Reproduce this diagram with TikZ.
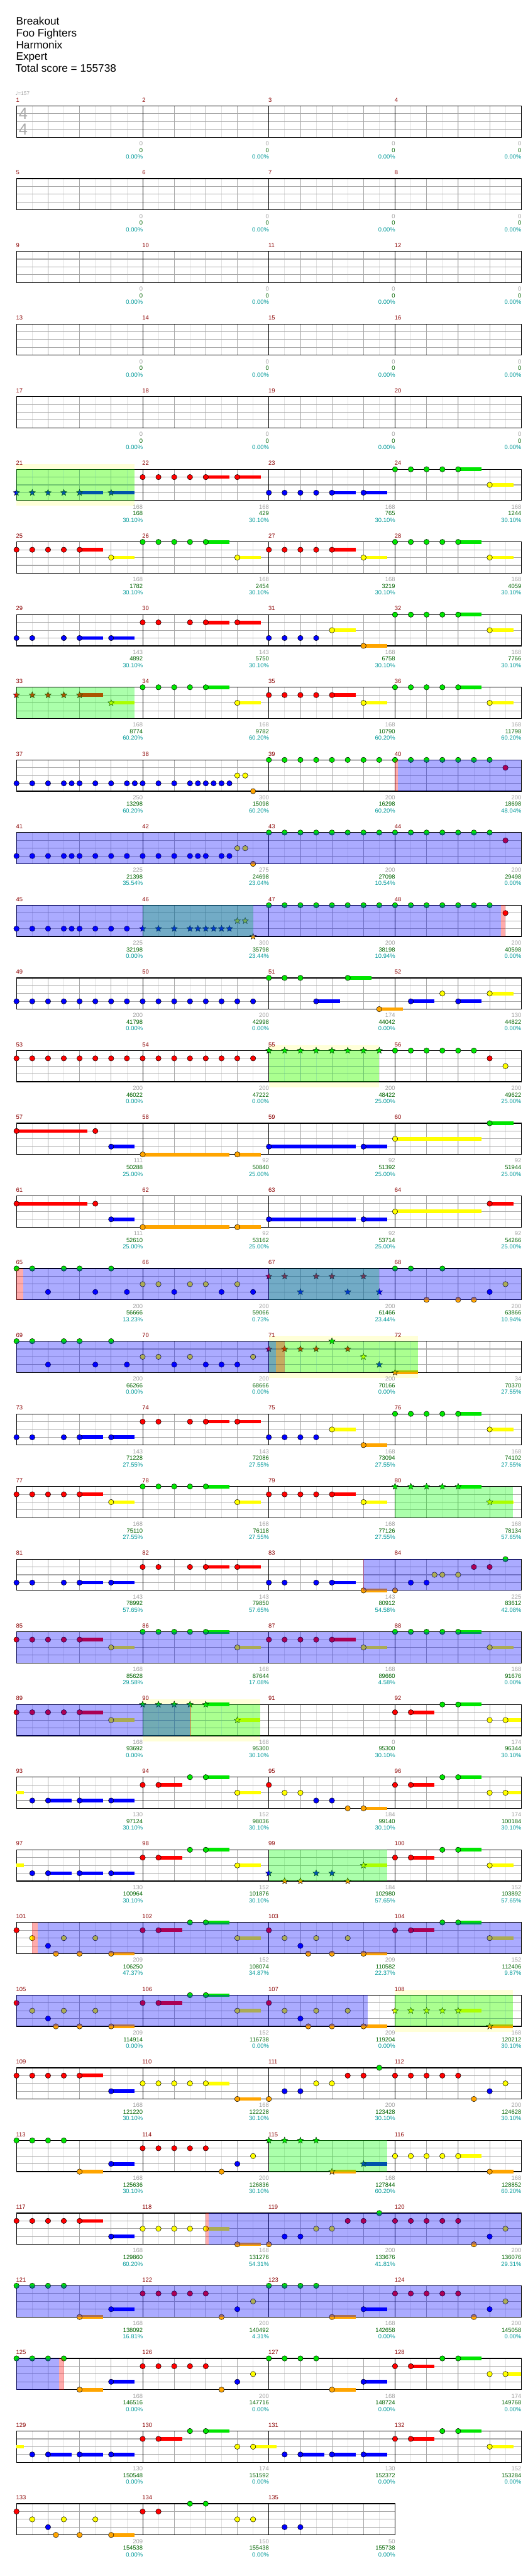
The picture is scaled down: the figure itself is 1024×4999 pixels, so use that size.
\documentclass[tikz,border=0pt]{standalone}
\usepackage{fontspec}
\setmainfont{Liberation Sans}
\newfontfamily\symf{DejaVu Sans}
\usetikzlibrary{shapes.geometric}
\definecolor{ng}{HTML}{00E600}
\definecolor{nr}{HTML}{FF0000}
\definecolor{ny}{HTML}{FFFF00}
\definecolor{nb}{HTML}{0000FF}
\definecolor{no}{HTML}{FFA500}
\definecolor{mnumc}{HTML}{8B0000}
\definecolor{grayn}{HTML}{A0A0A0}
\definecolor{greenn}{HTML}{006400}
\definecolor{cyann}{HTML}{009999}
\definecolor{bandc}{HTML}{FFFFD8}
\definecolor{lg8}{HTML}{E2E2E2}
\definecolor{lg4}{HTML}{A8A8A8}
\definecolor{tsig}{HTML}{AAAAAA}
\tikzset{
 ln8/.style={draw=lg8, line width=0.8pt},
 ln4/.style={draw=lg4, line width=1pt},
 lnh/.style={draw=lg4, line width=1.3pt},
 lnm/.style={draw=black, line width=1pt},
 chframe/.style={draw=black, line width=1.5pt},
 notest/.style={draw=black, line width=0.6pt},
 starnote/.style={star, star points=5, star point ratio=2.3, minimum size=13pt, inner sep=0pt, draw=black, line width=0.5pt},
 mnum/.style={anchor=base west, inner sep=0pt, font=\fontsize{11.5}{11.5}\selectfont, text=mnumc},
 stt/.style={anchor=base east, inner sep=0pt, font=\fontsize{11.5}{11.5}\selectfont},
 hdr/.style={anchor=base west, inner sep=0pt, font=\fontsize{21}{21}\selectfont}
}
\newcommand\chRow[1]{\pgfmathsetmacro\rowtop{205.7+141*#1}}
\newcommand\chStaff[1]{%
 \pgfmathsetmacro\chrw{245*#1}%
 \pgfmathtruncatemacro\chne{8*#1-1}%
 \foreach \i in {1,...,\chne}{\draw[ln8] ({32+30.625*\i},\rowtop) -- ++(0,60.6);}%
 \pgfmathtruncatemacro\chnq{4*#1-1}%
 \foreach \i in {1,...,\chnq}{\draw[ln4] ({32+61.25*\i},\rowtop) -- ++(0,60.6);}%
 \foreach \i in {1,2,3}{\draw[lnh] (32,{\rowtop+15.15*\i}) -- ++(\chrw,0);}%
 \pgfmathtruncatemacro\chnm{#1-1}%
 \foreach \i in {1,...,\chnm}{\draw[lnm] ({32+245*\i},\rowtop) -- ++(0,60.6);}%
 \draw[chframe] (32,\rowtop) rectangle ++(\chrw,60.6);}
\newcommand\chN[3]{\foreach \pp in {#3}{\path[notest,fill=#2] ({32+30.625*\pp},{\rowtop+15.15*#1}) circle[radius=5.2pt];}}
\newcommand\chS[3]{\foreach \pp in {#3}{\node[starnote,fill=#2] at ({32+30.625*\pp},{\rowtop+15.15*#1}) {};}}
\newcommand\chU[4]{\fill[#2] ({32+30.625*(#3)},{\rowtop+15.15*#1-3.5}) rectangle ({32+30.625*(#4)},{\rowtop+15.15*#1+3.5});}
\newcommand\chNU[4]{\chU{#1}{#2}{#3}{#4}\chN{#1}{#2}{#3}}
\newcommand\chSU[4]{\chU{#1}{#2}{#3}{#4}\chS{#1}{#2}{#3}}
\newcommand\chG[2]{\fill[green,fill opacity=0.33] ({32+30.625*(#1)},\rowtop) rectangle ({32+30.625*(#2)},{\rowtop+60.6});}
\newcommand\chB[2]{\fill[blue,fill opacity=0.33] ({32+30.625*(#1)},\rowtop) rectangle ({32+30.625*(#2)},{\rowtop+60.6});}
\newcommand\chP[2]{\fill[red,fill opacity=0.33] ({32+30.625*(#1)},\rowtop) rectangle ({32+30.625*(#2)},{\rowtop+60.6});}
\newcommand\chY[2]{\fill[bandc] ({32+30.625*(#1)},{\rowtop-10.5}) rectangle ({32+30.625*(#2)},{\rowtop+71.1});}
\newcommand\chL[5]{%
 \node[mnum] at ({31+245*#1},{\rowtop-7.7}) {#2};%
 \node[stt,text=grayn] at ({32.5+245*(#1+1)},{\rowtop+76.9}) {#3};%
 \node[stt,text=greenn] at ({32.5+245*(#1+1)},{\rowtop+89.9}) {#4};%
 \node[stt,text=cyann] at ({32.5+245*(#1+1)},{\rowtop+102.6}) {#5\%};}
\begin{document}
\begin{tikzpicture}[x=1pt,y=-1pt]
\fill[white] (0,0) rectangle (1024,4999);
\useasboundingbox (0,0) rectangle (1024,4999);
% header
\node[hdr] (t1) at (31,48) {Breakout};
\node[hdr] (t2) at (31,71) {Foo Fighters};
\node[hdr] (t3) at (31,94) {Harmonix};
\node[hdr] (t4) at (31,117) {Expert};
\node[hdr] (t5) at (30,140) {Total score = 155738};
\node[anchor=base west, inner sep=0pt, text=grayn, font=\fontsize{10}{10}\selectfont] (tempo) at (30,185) {{\symf ♩}=157};
% empty rows
\foreach \r in {0,...,4}{%
 \chRow{\r}\chStaff{4}%
 \foreach \k in {0,1,2,3}{\pgfmathtruncatemacro\mm{4*\r+\k+1}\chL{\k}{\mm}{0}{0}{0.00}}}
\chRow{0}
\node[text=tsig, inner sep=0pt, font=\fontsize{31}{31}\selectfont] (ts1) at (45,221) {4};
\node[text=tsig, inner sep=0pt, font=\fontsize{31}{31}\selectfont] (ts2) at (45,251) {4};
% row 5
\chRow{5}\chY{0}{7.47}\chStaff{4}
\chS{3}{nb}{0,1,2,3}\chSU{3}{nb}{4}{5.5}\chSU{3}{nb}{6}{7.47}
\chN{1}{nr}{8,9,10,11}\chNU{1}{nr}{12}{13.5}\chNU{1}{nr}{14}{15.5}
\chN{3}{nb}{16,17,18,19}\chNU{3}{nb}{20}{21.5}\chNU{3}{nb}{22}{23.5}
\chN{0}{ng}{24,25,26,27}\chNU{0}{ng}{28}{29.5}\chNU{2}{ny}{30}{31.5}
\chG{0}{7.47}
\chL{0}{21}{168}{168}{30.10}\chL{1}{22}{168}{429}{30.10}\chL{2}{23}{168}{765}{30.10}\chL{3}{24}{168}{1244}{30.10}
% row 6
\chRow{6}\chStaff{4}
\chN{1}{nr}{0,1,2,3}\chNU{1}{nr}{4}{5.5}\chNU{2}{ny}{6}{7.47}
\chN{0}{ng}{8,9,10,11}\chNU{0}{ng}{12}{13.5}\chNU{2}{ny}{14}{15.5}
\chN{1}{nr}{16,17,18,19}\chNU{1}{nr}{20}{21.5}\chNU{2}{ny}{22}{23.5}
\chN{0}{ng}{24,25,26,27}\chNU{0}{ng}{28}{29.5}\chNU{2}{ny}{30}{31.5}
\chL{0}{25}{168}{1782}{30.10}\chL{1}{26}{168}{2454}{30.10}\chL{2}{27}{168}{3219}{30.10}\chL{3}{28}{168}{4059}{30.10}
% row 7
\chRow{7}\chStaff{4}
\chN{3}{nb}{0,1,3}\chNU{3}{nb}{4}{5.5}\chNU{3}{nb}{6}{7.47}
\chN{1}{nr}{8,9,11}\chNU{1}{nr}{12}{13.5}\chNU{1}{nr}{14}{15.5}
\chN{3}{nb}{16,17,18,19}\chNU{2}{ny}{20}{21.5}\chNU{4}{no}{22}{23.5}
\chN{0}{ng}{24,25,26,27}\chNU{0}{ng}{28}{29.5}\chNU{2}{ny}{30}{31.5}
\chL{0}{29}{143}{4892}{30.10}\chL{1}{30}{143}{5750}{30.10}\chL{2}{31}{168}{6758}{30.10}\chL{3}{32}{168}{7766}{30.10}
% row 8
\chRow{8}\chStaff{4}
\chS{1}{nr}{0,1,2,3}\chSU{1}{nr}{4}{5.5}\chSU{2}{ny}{6}{7.47}
\chN{0}{ng}{8,9,10,11}\chNU{0}{ng}{12}{13.5}\chNU{2}{ny}{14}{15.5}
\chN{1}{nr}{16,17,18,19}\chNU{1}{nr}{20}{21.5}\chNU{2}{ny}{22}{23.5}
\chN{0}{ng}{24,25,26,27}\chNU{0}{ng}{28}{29.5}\chNU{2}{ny}{30}{31.5}
\chG{0}{7.47}
\chL{0}{33}{168}{8774}{60.20}\chL{1}{34}{168}{9782}{60.20}\chL{2}{35}{168}{10790}{60.20}\chL{3}{36}{168}{11798}{60.20}
% row 9
\chRow{9}\chStaff{4}
\chN{3}{nb}{0,1,2,3,3.5,4,5,6,7,7.5,8,9,10,11,11.5,12,12.5,13,13.5}
\chN{2}{ny}{14,14.5}\chN{4}{no}{15}
\chN{0}{ng}{16,...,30}\chN{1}{nr}{31}
\chP{24}{24.17}\chB{24.17}{32}
\chL{0}{37}{250}{13298}{60.20}\chL{1}{38}{300}{15098}{60.20}\chL{2}{39}{200}{16298}{60.20}\chL{3}{40}{200}{18698}{48.04}
% row 10
\chRow{10}\chStaff{4}
\chN{3}{nb}{0,1,2,3,3.5,4,5,6,7,8,9,10,11,11.5,12,13,13.5}
\chN{2}{ny}{14,14.5}\chN{4}{no}{15}
\chN{0}{ng}{16,...,30}\chN{1}{nr}{31}
\chB{0}{32}
\chL{0}{41}{225}{21398}{35.54}\chL{1}{42}{275}{24698}{23.04}\chL{2}{43}{200}{27098}{10.54}\chL{3}{44}{200}{29498}{0.00}
% row 11
\chRow{11}\chStaff{4}
\chN{3}{nb}{0,1,2,3,3.5,4,5,6,7}
\chS{3}{nb}{8,9,10,11,11.5,12,12.5,13,13.5}
\chS{2}{ny}{14,14.5}\chS{4}{no}{15}
\chN{0}{ng}{16,...,30}\chN{1}{nr}{31}
\chG{8}{15}\chB{0}{30.73}\chP{30.73}{31}
\chL{0}{45}{225}{32198}{0.00}\chL{1}{46}{300}{35798}{23.44}\chL{2}{47}{200}{38198}{10.94}\chL{3}{48}{200}{40598}{0.00}
% row 12
\chRow{12}\chStaff{4}
\chN{3}{nb}{0,...,15}
\chN{0}{ng}{16,17,18}\chNU{3}{nb}{19}{20.5}\chNU{0}{ng}{21}{22.5}\chNU{4}{no}{23}{24.5}
\chNU{3}{nb}{25}{26.5}\chN{2}{ny}{27}\chNU{3}{nb}{28}{29.5}\chNU{2}{ny}{30}{31.5}
\chL{0}{49}{200}{41798}{0.00}\chL{1}{50}{200}{42998}{0.00}\chL{2}{51}{174}{44042}{0.00}\chL{3}{52}{130}{44822}{0.00}
% row 13
\chRow{13}\chY{16}{23}\chStaff{4}
\chN{1}{nr}{0,...,15}
\chS{0}{ng}{16,...,23}
\chN{0}{ng}{24,...,29}\chN{1}{nr}{30}\chN{2}{ny}{31}
\chG{16}{23}
\chL{0}{53}{200}{46022}{0.00}\chL{1}{54}{200}{47222}{0.00}\chL{2}{55}{200}{48422}{25.00}\chL{3}{56}{200}{49622}{25.00}
% row 14
\chRow{14}\chStaff{4}
\chNU{1}{nr}{0}{4.5}\chN{1}{nr}{5}\chNU{3}{nb}{6}{7.47}
\chNU{4}{no}{8}{13.5}\chNU{4}{no}{14}{15.5}
\chNU{3}{nb}{16}{21.5}\chNU{3}{nb}{22}{23.5}
\chNU{2}{ny}{24}{29.5}\chNU{0}{ng}{30}{31.5}
\chL{0}{57}{111}{50288}{25.00}\chL{1}{58}{92}{50840}{25.00}\chL{2}{59}{92}{51392}{25.00}\chL{3}{60}{92}{51944}{25.00}
% row 15
\chRow{15}\chStaff{4}
\chNU{1}{nr}{0}{4.5}\chN{1}{nr}{5}\chNU{3}{nb}{6}{7.47}
\chNU{4}{no}{8}{13.5}\chNU{4}{no}{14}{15.5}
\chNU{3}{nb}{16}{21.5}\chNU{3}{nb}{22}{23.5}
\chNU{2}{ny}{24}{29.5}\chNU{1}{nr}{30}{31.5}
\chL{0}{61}{111}{52610}{25.00}\chL{1}{62}{92}{53162}{25.00}\chL{2}{63}{92}{53714}{25.00}\chL{3}{64}{92}{54266}{25.00}
% row 16
\chRow{16}\chStaff{4}
\chN{0}{ng}{0,1,3,4,6}\chN{3}{nb}{2,5,7}
\chN{2}{ny}{8,9,11,12,14}\chN{3}{nb}{10,13,15}
\chS{1}{nr}{16,17,19,20,22}\chS{3}{nb}{18,21,23}
\chN{0}{ng}{24,25,27}\chN{4}{no}{26,28,29}\chN{3}{nb}{30}\chN{2}{ny}{31}
\chG{16}{23}\chP{0}{0.44}\chB{0.44}{32}
\chL{0}{65}{200}{56666}{13.23}\chL{1}{66}{200}{59066}{0.73}\chL{2}{67}{200}{61466}{23.44}\chL{3}{68}{200}{63866}{10.94}
% row 17
\chRow{17}\chY{16}{25.47}\chStaff{4}
\chN{0}{ng}{0,1,3,4,6}\chN{3}{nb}{2,5,7}
\chN{2}{ny}{8,9,11,15}\chN{3}{nb}{10,12,13,14}
\chS{1}{nr}{16,17,18,19,21}\chS{0}{ng}{20}\chS{2}{ny}{22}\chS{3}{nb}{23}
\chSU{4}{no}{24}{25.47}
\chG{16}{25.47}\chB{0}{16.43}\chP{16.43}{17}
\chL{0}{69}{200}{66266}{0.00}\chL{1}{70}{200}{68666}{0.00}\chL{2}{71}{200}{70166}{0.00}\chL{3}{72}{34}{70370}{27.55}
% row 18
\chRow{18}\chStaff{4}
\chN{3}{nb}{0,1,3}\chNU{3}{nb}{4}{5.5}\chNU{3}{nb}{6}{7.47}
\chN{1}{nr}{8,9,11}\chNU{1}{nr}{12}{13.5}\chNU{1}{nr}{14}{15.5}
\chN{3}{nb}{16,17,18,19}\chNU{2}{ny}{20}{21.5}\chNU{4}{no}{22}{23.5}
\chN{0}{ng}{24,25,26,27}\chNU{0}{ng}{28}{29.5}\chNU{2}{ny}{30}{31.5}
\chL{0}{73}{143}{71228}{27.55}\chL{1}{74}{143}{72086}{27.55}\chL{2}{75}{168}{73094}{27.55}\chL{3}{76}{168}{74102}{27.55}
% row 19
\chRow{19}\chStaff{4}
\chN{1}{nr}{0,1,2,3}\chNU{1}{nr}{4}{5.5}\chNU{2}{ny}{6}{7.47}
\chN{0}{ng}{8,9,10,11}\chNU{0}{ng}{12}{13.5}\chNU{2}{ny}{14}{15.5}
\chN{1}{nr}{16,17,18,19}\chNU{1}{nr}{20}{21.5}\chNU{2}{ny}{22}{23.5}
\chS{0}{ng}{24,25,26,27}\chSU{0}{ng}{28}{29.5}\chSU{2}{ny}{30}{31.5}
\chG{24}{31.47}
\chL{0}{77}{168}{75110}{27.55}\chL{1}{78}{168}{76118}{27.55}\chL{2}{79}{168}{77126}{27.55}\chL{3}{80}{168}{78134}{57.65}
% row 20
\chRow{20}\chStaff{4}
\chN{3}{nb}{0,1,3}\chNU{3}{nb}{4}{5.5}\chNU{3}{nb}{6}{7.47}
\chN{1}{nr}{8,9,11}\chNU{1}{nr}{12}{13.5}\chNU{1}{nr}{14}{15.5}
\chN{3}{nb}{16,17,19}\chNU{3}{nb}{20}{21.5}\chNU{4}{no}{22}{23.5}\chN{4}{no}{24}
\chN{3}{nb}{25,26}\chN{2}{ny}{26.5,27,28}\chN{1}{nr}{29,30}\chN{0}{ng}{31}
\chB{22}{32}\chP{21.97}{22.03}
\chL{0}{81}{143}{78992}{57.65}\chL{1}{82}{143}{79850}{57.65}\chL{2}{83}{143}{80912}{54.58}\chL{3}{84}{225}{83612}{42.08}
% row 21
\chRow{21}\chStaff{4}
\chN{1}{nr}{0,1,2,3}\chNU{1}{nr}{4}{5.5}\chNU{2}{ny}{6}{7.47}
\chN{0}{ng}{8,9,10,11}\chNU{0}{ng}{12}{13.5}\chNU{2}{ny}{14}{15.5}
\chN{1}{nr}{16,17,18,19}\chNU{1}{nr}{20}{21.5}\chNU{2}{ny}{22}{23.5}
\chN{0}{ng}{24,25,26,27}\chNU{0}{ng}{28}{29.5}\chNU{2}{ny}{30}{31.5}
\chB{0}{32}
\chL{0}{85}{168}{85628}{29.58}\chL{1}{86}{168}{87644}{17.08}\chL{2}{87}{168}{89660}{4.58}\chL{3}{88}{168}{91676}{0.00}
% row 22
\chRow{22}\chY{8}{15.47}\chStaff{4}
\chN{1}{nr}{0,1,2,3}\chNU{1}{nr}{4}{5.5}\chNU{2}{ny}{6}{7.47}
\chS{0}{ng}{8,9,10,11}\chSU{0}{ng}{12}{13.5}\chSU{2}{ny}{14}{15.47}
\chN{1}{nr}{24}\chNU{1}{nr}{25}{26.5}\chN{0}{ng}{27}\chNU{0}{ng}{28}{29.5}\chN{2}{ny}{30}\chNU{2}{ny}{31}{32}
\chG{8}{15.47}\chB{0}{11}\chP{11}{11.05}
\chL{0}{89}{168}{93692}{0.00}\chL{1}{90}{168}{95300}{30.10}\chL{2}{91}{0}{95300}{30.10}\chL{3}{92}{174}{96344}{30.10}
% row 23
\chRow{23}\chStaff{4}
\chU{2}{ny}{0}{0.47}
\chN{3}{nb}{1}\chNU{3}{nb}{2}{3.5}\chNU{3}{nb}{4}{5.5}\chNU{3}{nb}{6}{7.47}
\chN{1}{nr}{8}\chNU{1}{nr}{9}{10.5}\chN{0}{ng}{11}\chNU{0}{ng}{12}{13.5}\chNU{2}{ny}{14}{15.5}
\chN{1}{nr}{16}\chN{2}{ny}{17,18}\chN{3}{nb}{19,20}\chN{4}{no}{21}\chNU{4}{no}{22}{23.5}
\chN{1}{nr}{24}\chNU{1}{nr}{25}{26.5}\chN{0}{ng}{27}\chNU{0}{ng}{28}{29.5}\chN{2}{ny}{30}\chNU{2}{ny}{31}{32}
\chL{0}{93}{130}{97124}{30.10}\chL{1}{94}{152}{98036}{30.10}\chL{2}{95}{184}{99140}{30.10}\chL{3}{96}{174}{100184}{30.10}
% row 24
\chRow{24}\chStaff{4}
\chU{2}{ny}{0}{0.47}
\chN{3}{nb}{1}\chNU{3}{nb}{2}{3.5}\chNU{3}{nb}{4}{5.5}\chNU{3}{nb}{6}{7.47}
\chN{1}{nr}{8}\chNU{1}{nr}{9}{10.5}\chN{0}{ng}{11}\chNU{0}{ng}{12}{13.5}\chNU{2}{ny}{14}{15.5}
\chS{3}{nb}{16,19,20}\chS{4}{no}{17,18,21}\chSU{2}{ny}{22}{23.5}
\chN{1}{nr}{24}\chNU{1}{nr}{25}{26.5}\chN{0}{ng}{27}\chNU{0}{ng}{28}{29.5}\chNU{2}{ny}{30}{31.5}
\chG{16}{23.5}
\chL{0}{97}{130}{100964}{30.10}\chL{1}{98}{152}{101876}{30.10}\chL{2}{99}{184}{102980}{57.65}\chL{3}{100}{152}{103892}{57.65}
% row 25
\chRow{25}\chStaff{4}
\chN{1}{nr}{0}\chN{2}{ny}{1,3,5}\chN{3}{nb}{2}\chN{4}{no}{2.5,4}\chNU{4}{no}{6}{7.47}
\chN{1}{nr}{8}\chNU{1}{nr}{9}{10.5}\chN{0}{ng}{11}\chNU{0}{ng}{12}{13.5}\chNU{2}{ny}{14}{15.5}
\chN{1}{nr}{16}\chN{2}{ny}{17,19,21}\chN{3}{nb}{18}\chN{4}{no}{18.5,20}\chNU{4}{no}{22}{23.5}
\chN{1}{nr}{24}\chNU{1}{nr}{25}{26.5}\chN{0}{ng}{27}\chNU{0}{ng}{28}{29.5}\chNU{2}{ny}{30}{31.5}
\chP{1}{1.35}\chB{1.35}{32}
\chL{0}{101}{209}{106250}{47.37}\chL{1}{102}{152}{108074}{34.87}\chL{2}{103}{209}{110582}{22.37}\chL{3}{104}{152}{112406}{9.87}
% row 26
\chRow{26}\chY{24}{31.47}\chStaff{4}
\chN{1}{nr}{0}\chN{2}{ny}{1,3,5}\chN{3}{nb}{2}\chN{4}{no}{2.5,4}\chNU{4}{no}{6}{7.47}
\chN{1}{nr}{8}\chNU{1}{nr}{9}{10.5}\chN{0}{ng}{11}\chNU{0}{ng}{12}{13.5}\chNU{2}{ny}{14}{15.5}
\chN{1}{nr}{16}\chN{2}{ny}{17,19,21}\chN{3}{nb}{18}\chN{4}{no}{18.5,20}\chNU{4}{no}{22}{23.5}
\chS{2}{ny}{24,25,26,27}\chSU{2}{ny}{28}{29.5}\chSU{4}{no}{30}{31.47}
\chG{24}{31.47}\chB{0}{22.27}
\chL{0}{105}{209}{114914}{0.00}\chL{1}{106}{152}{116738}{0.00}\chL{2}{107}{209}{119204}{0.00}\chL{3}{108}{168}{120212}{30.10}
% row 27
\chRow{27}\chStaff{4}
\chN{1}{nr}{0,1,2,3}\chNU{1}{nr}{4}{5.5}\chNU{3}{nb}{6}{7.47}
\chN{2}{ny}{8,9,10,11}\chNU{2}{ny}{12}{13.5}\chNU{4}{no}{14}{15.5}
\chN{4}{no}{16}\chN{3}{nb}{17,18}\chN{2}{ny}{19,20}\chN{1}{nr}{21,22}\chN{0}{ng}{23}
\chN{1}{nr}{24,25,26,27,28}\chN{4}{no}{29}\chN{3}{nb}{30}\chN{2}{ny}{31}
\chL{0}{109}{168}{121220}{30.10}\chL{1}{110}{168}{122228}{30.10}\chL{2}{111}{200}{123428}{30.10}\chL{3}{112}{200}{124628}{30.10}
% row 28
\chRow{28}\chStaff{4}
\chN{0}{ng}{0,1,2,3}\chNU{4}{no}{4}{5.5}\chNU{3}{nb}{6}{7.47}
\chN{1}{nr}{8,9,10,11,12}\chN{4}{no}{13}\chN{3}{nb}{14}\chN{2}{ny}{15}
\chS{0}{ng}{16,17,18,19}\chSU{4}{no}{20}{21.5}\chSU{3}{nb}{22}{23.5}
\chN{2}{ny}{24,25,26,27}\chNU{2}{ny}{28}{29.5}\chNU{4}{no}{30}{31.5}
\chG{16}{23.5}
\chL{0}{113}{168}{125636}{30.10}\chL{1}{114}{200}{126836}{30.10}\chL{2}{115}{168}{127844}{60.20}\chL{3}{116}{168}{128852}{60.20}
% row 29
\chRow{29}\chStaff{4}
\chN{1}{nr}{0,1,2,3}\chNU{1}{nr}{4}{5.5}\chNU{3}{nb}{6}{7.47}
\chN{2}{ny}{8,9,10,11}\chNU{2}{ny}{12}{13.5}\chNU{4}{no}{14}{15.5}
\chN{4}{no}{16}\chN{3}{nb}{17,18}\chN{2}{ny}{19,20}\chN{1}{nr}{21,22}\chN{0}{ng}{23}
\chN{1}{nr}{24,25,26,27,28}\chN{4}{no}{29}\chN{3}{nb}{30}\chN{2}{ny}{31}
\chP{12}{12.17}\chB{12.17}{32}
\chL{0}{117}{168}{129860}{60.20}\chL{1}{118}{168}{131276}{54.31}\chL{2}{119}{200}{133676}{41.81}\chL{3}{120}{200}{136076}{29.31}
% row 30
\chRow{30}\chStaff{4}
\chN{0}{ng}{0,1,2,3}\chNU{4}{no}{4}{5.5}\chNU{3}{nb}{6}{7.47}
\chN{1}{nr}{8,9,10,11,12}\chN{4}{no}{13}\chN{3}{nb}{14}\chN{2}{ny}{15}
\chN{0}{ng}{16,17,18,19}\chNU{4}{no}{20}{21.5}\chNU{3}{nb}{22}{23.5}
\chN{1}{nr}{24,25,26,27,28}\chN{4}{no}{29}\chN{3}{nb}{30}\chN{2}{ny}{31}
\chB{0}{32}
\chL{0}{121}{168}{138092}{16.81}\chL{1}{122}{200}{140492}{4.31}\chL{2}{123}{168}{142658}{0.00}\chL{3}{124}{200}{145058}{0.00}
% row 31
\chRow{31}\chStaff{4}
\chN{0}{ng}{0,1,2,3}\chNU{4}{no}{4}{5.5}\chNU{3}{nb}{6}{7.47}
\chN{1}{nr}{8,9,10,11,12}\chN{4}{no}{13}\chN{3}{nb}{14}\chN{2}{ny}{15}
\chN{0}{ng}{16,17,18,19}\chNU{4}{no}{20}{21.5}\chNU{3}{nb}{22}{23.5}
\chN{1}{nr}{24}\chNU{1}{nr}{25}{26.5}\chN{0}{ng}{27}\chNU{0}{ng}{28}{29.5}\chN{2}{ny}{30}\chNU{2}{ny}{31}{32}
\chB{0}{2.72}\chP{2.72}{3}
\chL{0}{125}{168}{146516}{0.00}\chL{1}{126}{200}{147716}{0.00}\chL{2}{127}{168}{148724}{0.00}\chL{3}{128}{174}{149768}{0.00}
% row 32
\chRow{32}\chStaff{4}
\chU{2}{ny}{0}{0.47}
\chN{3}{nb}{1}\chNU{3}{nb}{2}{3.5}\chNU{3}{nb}{4}{5.5}\chNU{3}{nb}{6}{7.47}
\chN{1}{nr}{8}\chNU{1}{nr}{9}{10.5}\chN{0}{ng}{11}\chNU{0}{ng}{12}{13.5}\chN{2}{ny}{14}\chNU{2}{ny}{15}{16.48}
\chN{3}{nb}{17}\chNU{3}{nb}{18}{19.5}\chNU{3}{nb}{20}{21.5}\chNU{3}{nb}{22}{23.5}
\chN{1}{nr}{24}\chNU{1}{nr}{25}{26.5}\chN{0}{ng}{27}\chNU{0}{ng}{28}{29.5}\chNU{2}{ny}{30}{31.5}
\chL{0}{129}{130}{150548}{0.00}\chL{1}{130}{174}{151592}{0.00}\chL{2}{131}{130}{152372}{0.00}\chL{3}{132}{152}{153284}{0.00}
% row 33
\chRow{33}\chStaff{3}
\chN{1}{nr}{0}\chN{2}{ny}{1,3,5}\chN{3}{nb}{2}\chN{4}{no}{2.5,4}\chNU{4}{no}{6}{7.47}
\chN{1}{nr}{8,9}\chN{0}{ng}{11,12}\chN{2}{ny}{14,15}
\chN{3}{nb}{17,18}
\chL{0}{133}{209}{154538}{0.00}\chL{1}{134}{150}{155438}{0.00}\chL{2}{135}{50}{155738}{0.00}
\end{tikzpicture}
\end{document}
